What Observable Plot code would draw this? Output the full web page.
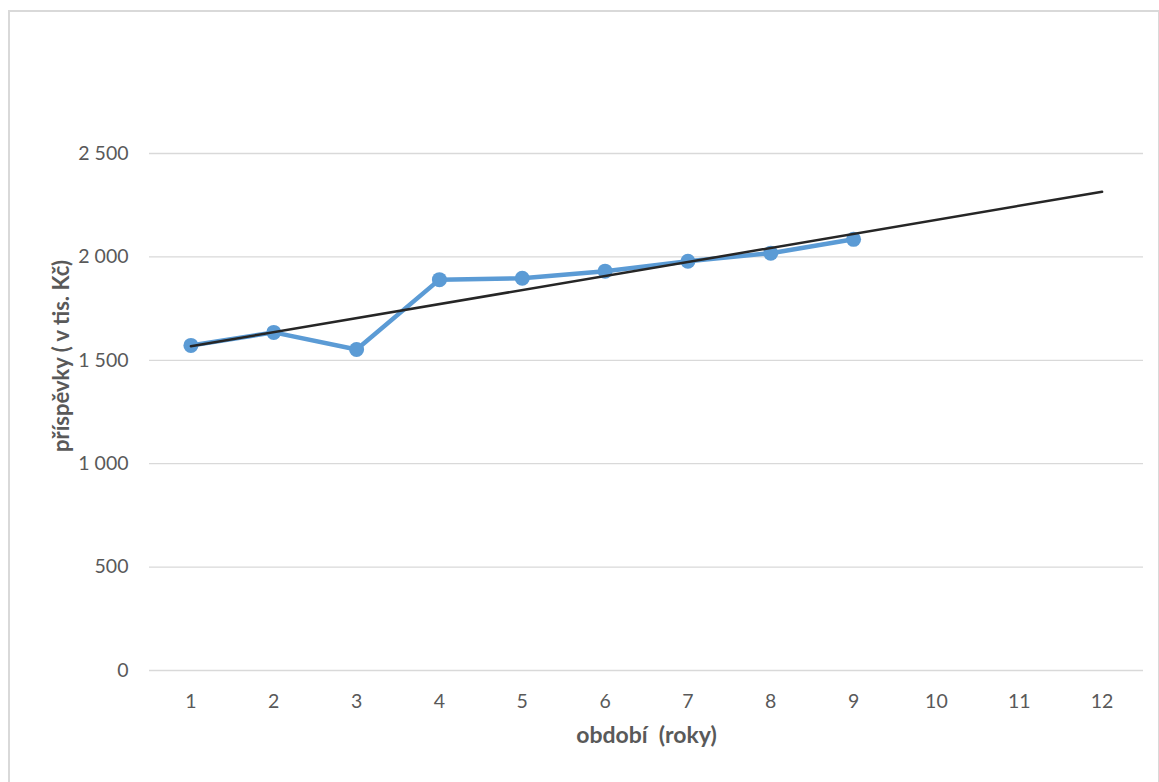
<!DOCTYPE html>
<html>
<head>
<meta charset="utf-8">
<script src="https://cdn.jsdelivr.net/npm/d3@7"></script>
<script src="https://cdn.jsdelivr.net/npm/@observablehq/plot@0.6"></script>
<style>
  html, body { margin: 0; padding: 0; background: #fff; }
  #wrap { position: relative; width: 1159px; height: 782px; overflow: hidden; }
  #border { position: absolute; left: 8px; top: 10px; width: 1148px; height: 800px;
            border: 2px solid #d9d9d9; pointer-events: none; }
</style>
</head>
<body>
<div id="wrap"><div id="chart"></div><div id="border"></div></div>
<script>
// Data
const periods = [1, 2, 3, 4, 5, 6, 7, 8, 9];
const contributions = [1572, 1635, 1552, 1890, 1897, 1931, 1979, 2018, 2085];
// linear trend line endpoints (as drawn in the reference)
const trendPeriods = [1, 12];
const trendValues = [1568, 2315];
const xTicks = [1, 2, 3, 4, 5, 6, 7, 8, 9, 10, 11, 12];
const yTicks = [0, 500, 1000, 1500, 2000, 2500];
const xTitle = "období\u00a0 (roky)";
const yTitle = "příspěvky ( v tis. Kč)";

const series = periods.map((p, i) => ({period: p, value: contributions[i]}));
const trend = trendPeriods.map((p, i) => ({period: p, value: trendValues[i]}));
const fmt = d3.formatLocale({thousands: "\u00a0", grouping: [3], decimal: ","}).format(",");

const chart = Plot.plot({
  width: 1159,
  height: 782,
  marginTop: 153,
  marginBottom: 112,
  marginLeft: 149,
  marginRight: 16,
  style: {fontFamily: "Lato, 'Open Sans', sans-serif", fontSize: "19px", color: "#595959", background: "transparent"},
  x: {domain: [0.5, 12.5], label: null},
  y: {domain: [0, 2500], label: null},
  marks: [
    Plot.gridY(yTicks, {stroke: "#d9d9d9", strokeOpacity: 1, strokeWidth: 1.3}),
    Plot.axisY(yTicks, {tickSize: 0, tickPadding: 21, tickFormat: fmt, label: null, fill: "#595959", fontSize: 19.5}),
    Plot.axisX(xTicks, {tickSize: 0, tickPadding: 24, tickFormat: d => String(d), label: null, fill: "#595959", fontSize: 19.5}),
    Plot.line(series, {x: "period", y: "value", stroke: "#5B9BD5", strokeWidth: 4.5, strokeLinejoin: "round"}),
    Plot.dot(series, {x: "period", y: "value", r: 7.5, fill: "#5B9BD5", stroke: "none"}),
    Plot.line(trend, {x: "period", y: "value", stroke: "#262626", strokeWidth: 2.5}),
    Plot.text([xTitle], {frameAnchor: "bottom", textAnchor: "middle", dy: 72, fontWeight: "bold", fontSize: 23, fill: "#595959"}),
    Plot.text([yTitle], {frameAnchor: "left", textAnchor: "middle", rotate: -90, dx: -88, dy: -56, fontWeight: "bold", fontSize: 22, fill: "#595959"})
  ]
});
document.getElementById("chart").appendChild(chart);
</script>
</body>
</html>
